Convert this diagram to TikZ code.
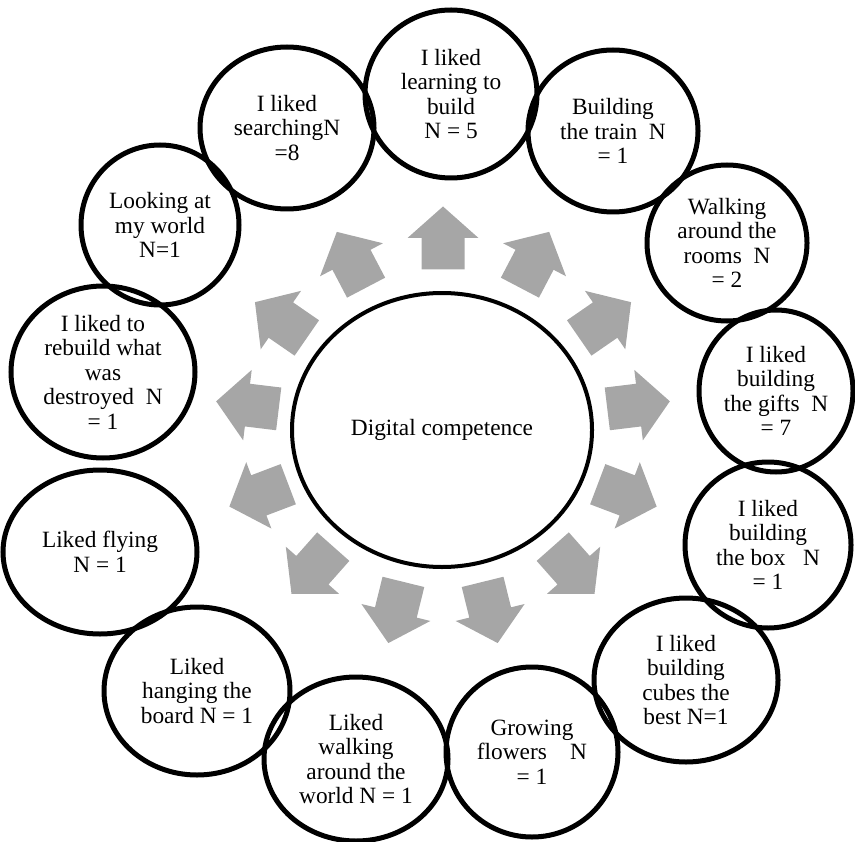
\documentclass[tikz,border=0pt]{standalone}
\usepackage{fontspec}
\setmainfont{Liberation Serif}
\usetikzlibrary{shapes.geometric}
\definecolor{arrowgray}{RGB}{166,166,166}
\def\pxu{0.75pt}
\begin{document}
\begin{tikzpicture}[x=0.75pt,y=-0.75pt,
  bubble/.style={draw, ellipse, line width=3.75pt, inner sep=0pt},
  hub/.style={draw, ellipse, line width=3pt, inner sep=0pt},
  bubbletext/.style={align=center, inner sep=0pt, font=\fontsize{17.5}{18.4}\selectfont},
  blockarrow/.style={fill=arrowgray}]
\useasboundingbox (0,0) rectangle (855,841);

% centre
\node[hub, minimum width=300*\pxu, minimum height=274*\pxu] (hub) at (442,430) {};
\node[bubbletext] (hubtext) at (hub.center) {Digital competence};

% radial block arrows
\foreach \k in {0,...,12}{
  \pgfmathsetmacro\a{90+\k*360/13}
  \fill[blockarrow, shift={({443+197*cos(\a)},{428-190*sin(\a)})}, rotate=\a]
    (-31.5,-21.5) -- (0,-21.5) -- (0,-35.5) -- (31.5,0) -- (0,35.5) -- (0,21.5) -- (-31.5,21.5) -- cycle;
}

% outer bubbles
\node[bubble, minimum width=172*\pxu, minimum height=168*\pxu] (b1) at (451,94) {};
\node[bubbletext] (t1) at (b1.center) {I liked\\learning to\\build\\N = 5};

\node[bubble, minimum width=170*\pxu, minimum height=162*\pxu] (b2) at (613,131) {};
\node[bubbletext] (t2) at (b2.center) {Building\\the train\ \ N\\= 1};

\node[bubble, minimum width=160*\pxu, minimum height=156*\pxu] (b3) at (727,243) {};
\node[bubbletext] (t3) at (b3.center) {Walking\\around the\\rooms\ \ N\\= 2};

\node[bubble, minimum width=154*\pxu, minimum height=162*\pxu] (b4) at (776,391) {};
\node[bubbletext] (t4) at (b4.center) {I liked\\building\\the gifts\ \ N\\= 7};

\node[bubble, minimum width=166*\pxu, minimum height=166*\pxu] (b5) at (768,545) {};
\node[bubbletext] (t5) at (b5.center) {I liked\\building\\the box\ \ \ N\\= 1};

\node[bubble, minimum width=184*\pxu, minimum height=164*\pxu] (b6) at (686,680) {};
\node[bubbletext] (t6) at (b6.center) {I liked\\building\\cubes the\\best N=1};

\node[bubble, minimum width=172*\pxu, minimum height=170*\pxu] (b7) at (532,752) {};
\node[bubbletext] (t7) at (b7.center) {Growing\\flowers\ \ \ \ N\\= 1};

\node[bubble, minimum width=184*\pxu, minimum height=164*\pxu] (b8) at (356,759) {};
\node[bubbletext] (t8) at (b8.center) {Liked\\walking\\around the\\world N = 1};

\node[bubble, minimum width=186*\pxu, minimum height=168*\pxu] (b9) at (197,691) {};
\node[bubbletext] (t9) at (b9.center) {Liked\\hanging the\\board N = 1};

\node[bubble, minimum width=194*\pxu, minimum height=164*\pxu] (b10) at (100,552) {};
\node[bubbletext] (t10) at (b10.center) {Liked flying\\N = 1};

\node[bubble, minimum width=184*\pxu, minimum height=172*\pxu] (b11) at (103,372) {};
\node[bubbletext] (t11) at (b11.center) {I liked to\\rebuild what\\was\\destroyed\ \ N\\= 1};

\node[bubble, minimum width=158*\pxu, minimum height=160*\pxu] (b12) at (160,225) {};
\node[bubbletext] (t12) at (b12.center) {Looking at\\my world\\N=1};

\node[bubble, minimum width=174*\pxu, minimum height=162*\pxu] (b13) at (287,128) {};
\node[bubbletext] (t13) at (b13.center) {I liked\\searchingN\\=8};
\end{tikzpicture}
\end{document}
